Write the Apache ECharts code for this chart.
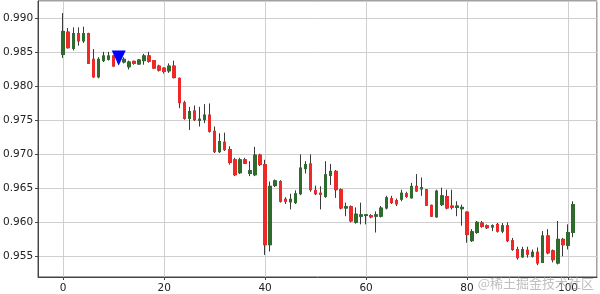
<!DOCTYPE html>
<html>
<head>
<meta charset="utf-8">
<script src="https://cdn.jsdelivr.net/npm/echarts@6/dist/echarts.min.js"></script>
<style>html,body{margin:0;padding:0;background:#fff}#c{width:600px;height:294px}</style>
</head>
<body>
<div id="c"></div>
<script>
// candle index positions
const xIdx = [0,1,2,3,4,5,6,7,8,9,10,11,12,13,14,15,16,17,18,19,20,21,22,23,24,25,26,27,28,29,30,31,32,33,34,35,36,37,38,39,40,41,42,43,44,45,46,47,48,49,50,51,52,53,54,55,56,57,58,59,60,61,62,63,64,65,66,67,68,69,70,71,72,73,74,75,76,77,78,79,80,81,82,83,84,85,86,87,88,89,90,91,92,93,94,95,96,97,98,99,100,101];
const opens = [0.9847,0.9880,0.9856,0.9878,0.9867,0.9878,0.9840,0.9814,0.9838,0.9840,0.9845,0.9838,0.9836,0.9829,0.9837,0.9833,0.9838,0.9845,0.9838,0.9830,0.9827,0.9823,0.9830,0.9812,0.9776,0.9753,0.9764,0.9750,0.9751,0.9758,0.9734,0.9704,0.9718,0.9707,0.9692,0.9673,0.9692,0.9672,0.9670,0.9699,0.9685,0.9567,0.9654,0.9660,0.9634,0.9630,0.9629,0.9642,0.9679,0.9686,0.9647,0.9643,0.9638,0.9669,0.9675,0.9648,0.9621,0.9623,0.9600,0.9609,0.9610,0.9610,0.9609,0.9609,0.9621,0.9635,0.9632,0.9634,0.9642,0.9636,0.9653,0.9649,0.9648,0.9625,0.9608,0.9626,0.9638,0.9624,0.9622,0.9620,0.9615,0.9573,0.9585,0.9599,0.9595,0.9593,0.9597,0.9587,0.9595,0.9573,0.9560,0.9549,0.9559,0.9550,0.9556,0.9541,0.9580,0.9558,0.9540,0.9575,0.9566,0.9585];
const closes = [0.9881,0.9857,0.9878,0.9867,0.9878,0.9834,0.9814,0.9840,0.9845,0.9845,0.9830,0.9835,0.9840,0.9836,0.9834,0.9839,0.9845,0.9837,0.9827,0.9824,0.9822,0.9830,0.9813,0.9776,0.9753,0.9763,0.9751,0.9752,0.9758,0.9734,0.9704,0.9719,0.9707,0.9688,0.9670,0.9692,0.9687,0.9676,0.9699,0.9685,0.9567,0.9653,0.9661,0.9631,0.9631,0.9634,0.9642,0.9680,0.9685,0.9648,0.9642,0.9641,0.9670,0.9675,0.9648,0.9621,0.9623,0.9602,0.9612,0.9611,0.9611,0.9608,0.9611,0.9621,0.9636,0.9629,0.9627,0.9643,0.9638,0.9653,0.9646,0.9651,0.9625,0.9609,0.9646,0.9639,0.9621,0.9622,0.9624,0.9622,0.9582,0.9586,0.9600,0.9594,0.9592,0.9595,0.9587,0.9595,0.9573,0.9560,0.9548,0.9560,0.9553,0.9556,0.9540,0.9580,0.9555,0.9545,0.9575,0.9567,0.9585,0.9626];
const lows = [0.9842,0.9856,0.9853,0.9860,0.9864,0.9833,0.9813,0.9812,0.9836,0.9838,0.9829,0.9832,0.9834,0.9825,0.9832,0.9832,0.9832,0.9835,0.9826,0.9822,0.9819,0.9820,0.9812,0.9768,0.9751,0.9736,0.9749,0.9741,0.9746,0.9732,0.9702,0.9702,0.9705,0.9685,0.9668,0.9671,0.9686,0.9668,0.9668,0.9683,0.9552,0.9557,0.9652,0.9629,0.9627,0.9619,0.9627,0.9640,0.9672,0.9645,0.9640,0.9619,0.9636,0.9655,0.9636,0.9619,0.9609,0.9600,0.9598,0.9597,0.9597,0.9606,0.9585,0.9607,0.9619,0.9627,0.9624,0.9631,0.9636,0.9635,0.9645,0.9639,0.9624,0.9608,0.9607,0.9624,0.9619,0.9619,0.9609,0.9595,0.9570,0.9571,0.9583,0.9592,0.9590,0.9587,0.9585,0.9584,0.9571,0.9558,0.9545,0.9548,0.9548,0.9548,0.9537,0.9540,0.9553,0.9541,0.9538,0.9550,0.9560,0.9578];
const highs = [0.9908,0.9886,0.9887,0.9887,0.9888,0.9879,0.9855,0.9843,0.9851,0.9851,0.9846,0.9842,0.9843,0.9838,0.9838,0.9840,0.9848,0.9851,0.9839,0.9832,0.9828,0.9834,0.9838,0.9813,0.9779,0.9770,0.9772,0.9770,0.9774,0.9775,0.9741,0.9731,0.9732,0.9712,0.9695,0.9695,0.9695,0.9690,0.9711,0.9701,0.9692,0.9660,0.9663,0.9662,0.9637,0.9642,0.9647,0.9700,0.9690,0.9700,0.9654,0.9653,0.9690,0.9686,0.9677,0.9650,0.9629,0.9625,0.9622,0.9629,0.9612,0.9612,0.9616,0.9624,0.9639,0.9639,0.9635,0.9648,0.9645,0.9658,0.9671,0.9666,0.9649,0.9626,0.9648,0.9651,0.9648,0.9648,0.9631,0.9626,0.9616,0.9590,0.9602,0.9602,0.9597,0.9597,0.9599,0.9599,0.9600,0.9577,0.9564,0.9564,0.9564,0.9560,0.9563,0.9587,0.9590,0.9560,0.9602,0.9577,0.9597,0.9631];
// signal marker
const signalX = [11];
const signalY = [0.9842];

const GREEN = '#2e6c2e', RED = '#f02828';
const full = xIdx.map((x, i) => [x, opens[i], closes[i], lows[i], highs[i]]);
const bodies = xIdx.map((x, i) => [x, opens[i], closes[i], Math.min(opens[i], closes[i]), Math.max(opens[i], closes[i])]);

const chart = echarts.init(document.getElementById('c'), null, {renderer: 'canvas'});
const lbl = {color: '#222', fontSize: 10.5, fontFamily: 'DejaVu Sans'};
chart.setOption({
  animation: false,
  backgroundColor: '#ffffff',
  grid: {left: 36, right: 3, top: 1, bottom: 16, show: true, borderColor: '#444', borderWidth: 1},
  xAxis: {
    type: 'value', min: -4.98, max: 105.75, splitNumber: 6,
    axisLine: {show: true, onZero: false, lineStyle: {color: '#444'}},
    axisTick: {show: true, length: 3, lineStyle: {color: '#444'}},
    axisLabel: Object.assign({margin: 6, showMinLabel: false, showMaxLabel: false,
      formatter: v => (Math.abs(v % 20) < 1e-9 ? String(v) : '')}, lbl),
    splitLine: {show: true, lineStyle: {color: '#cfcfcf', width: 1}}
  },
  yAxis: {
    type: 'value', min: 0.95195, max: 0.99258, splitNumber: 8, scale: true,
    axisLine: {show: true, onZero: false, lineStyle: {color: '#444'}},
    axisTick: {show: true, length: 3, lineStyle: {color: '#444'}},
    axisLabel: Object.assign({margin: 5, showMinLabel: false, showMaxLabel: false,
      formatter: v => (Math.abs(Math.round(v * 1000) - v * 1000) < 1e-6 && Math.round(v*1000) % 5 === 0 ? v.toFixed(3) : '')}, lbl),
    splitLine: {show: true, lineStyle: {color: '#cfcfcf', width: 1}}
  },
  series: [
    {
      type: 'candlestick', data: full, barWidth: 3,
      encode: {x: 0, y: [1, 2, 3, 4]},
      itemStyle: {color: GREEN, color0: RED, borderColor: '#3a3a3a', borderColor0: '#3a3a3a', borderWidth: 1}
    },
    {
      type: 'candlestick', data: bodies, barWidth: 3, z: 3,
      encode: {x: 0, y: [1, 2, 3, 4]},
      itemStyle: {color: GREEN, color0: RED, borderColor: GREEN, borderColor0: RED, borderWidth: 1}
    },
    {
      type: 'scatter', z: 5,
      data: signalX.map((x, i) => [x, signalY[i]]),
      symbol: 'triangle', symbolRotate: 180, symbolSize: [14, 15],
      itemStyle: {color: '#0000ff', opacity: 1}
    }
  ],
  graphic: [{
    type: 'text', right: 6, bottom: 4, z: 100,
    style: {text: '@稀土掘金技术社区', fill: 'rgba(170,170,170,0.75)', font: '13px "Noto Sans CJK SC"'}
  }]
});
</script>
</body>
</html>
